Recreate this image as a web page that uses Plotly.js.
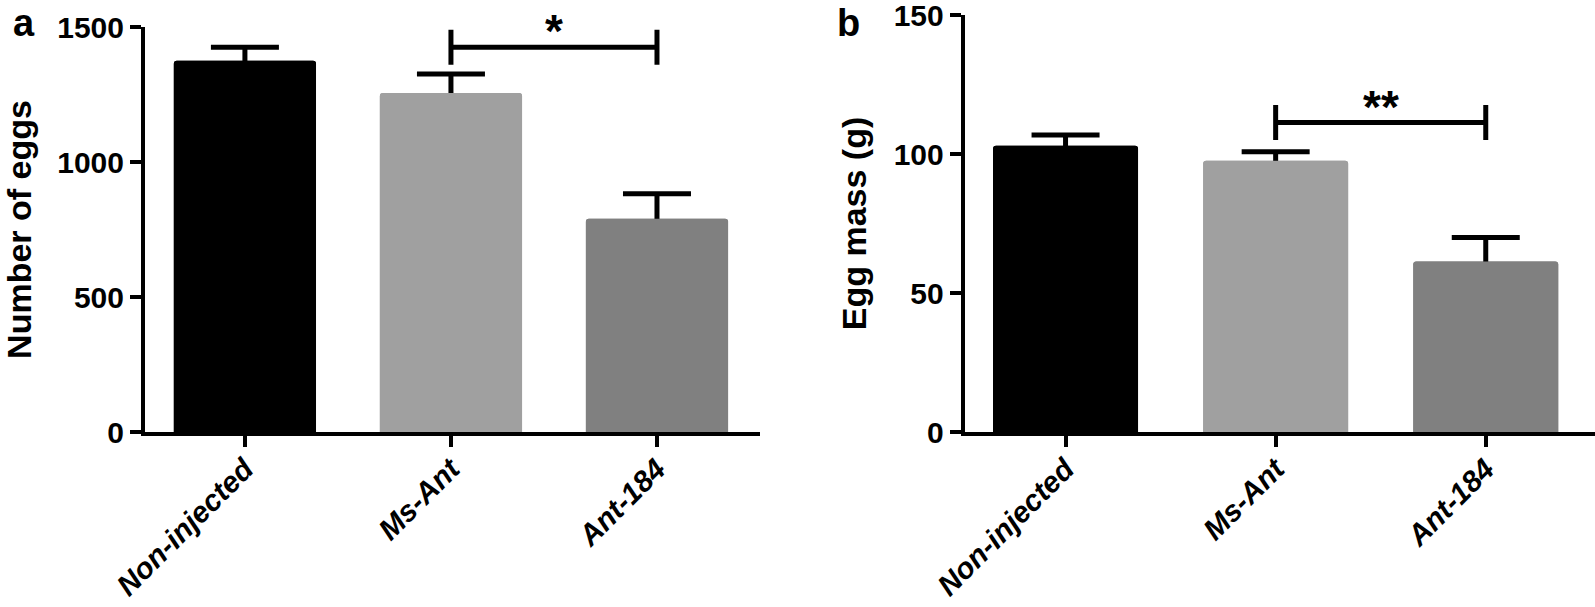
<!DOCTYPE html>
<html>
<head>
<meta charset="utf-8">
<script src="https://cdn.plot.ly/plotly-3.0.1.min.js"></script>
<style>
  html, body { margin: 0; padding: 0; background: #ffffff; }
  #chart { width: 1595px; height: 607px; }
</style>
</head>
<body>
<div id="chart"></div>
<script>
// ---- data ----
const categories = ['Non-injected', 'Ms-Ant', 'Ant-184'];
const eggCount = [1375, 1256, 790];
const eggCountErr = [50, 70, 92];
const eggMass = [103.0, 97.6, 61.3];
const eggMassErr = [3.8, 3.2, 8.7];
const barColors = ['#000000', '#a0a0a0', '#808080'];
const sigPairA = ['Ms-Ant', 'Ant-184'];
const sigLevelA = 1425;
const sigLabelA = '*';
const sigPairB = ['Ms-Ant', 'Ant-184'];
const sigLevelB = 111.3;
const sigLabelB = '**';
const yTitleA = 'Number of eggs';
const yTitleB = 'Egg mass (g)';

// ---- styling ----
const FONT = '"Liberation Sans", Arial, Helvetica, sans-serif';
const W = 1595, H = 607;

function barTrace(vals, errs, xa, ya, withErr) {
  const t = {
    type: 'bar', x: categories, y: vals, xaxis: xa, yaxis: ya,
    width: 0.69,
    marker: { color: barColors, line: { width: 0 }, cornerradius: 3 },
    hoverinfo: 'skip'
  };
  if (withErr) {
    t.error_y = { type: 'data', array: errs, symmetric: true, visible: true,
                  color: '#000000', thickness: 5, width: 34 };
  }
  return t;
}
function bracketTrace(pair, level, xa, ya) {
  return {
    type: 'scatter', mode: 'lines+markers', x: pair, y: [level, level],
    xaxis: xa, yaxis: ya,
    line: { color: '#000000', width: 5 },
    marker: { symbol: 'line-ns-open', size: 25, color: '#000000',
              line: { color: '#000000', width: 5 } },
    hoverinfo: 'skip'
  };
}

const data = [
  barTrace(eggCount, eggCountErr, 'x', 'y', true),
  barTrace(eggCount, eggCountErr, 'x', 'y', false),
  bracketTrace(sigPairA, sigLevelA, 'x', 'y'),
  barTrace(eggMass, eggMassErr, 'x2', 'y2', true),
  barTrace(eggMass, eggMassErr, 'x2', 'y2', false),
  bracketTrace(sigPairB, sigLevelB, 'x2', 'y2')
];

function xAxis(domain, range, anchor) {
  return {
    type: 'category', domain: domain, range: range, anchor: anchor,
    showgrid: false, zeroline: false,
    showline: true, linecolor: '#000000', linewidth: 4,
    ticks: 'outside', ticklen: 11, tickwidth: 4, tickcolor: '#000000',
    tickangle: -45, ticklabeloverflow: 'allow', ticklabelstandoff: -7,
    tickfont: { family: FONT, size: 29.5, color: '#000000', weight: 'bold', style: 'italic' },
    fixedrange: true
  };
}
function yAxis(domain, range, dtick, title, anchor) {
  return {
    domain: domain, range: range, anchor: anchor, dtick: dtick, tick0: 0,
    showgrid: false, zeroline: false,
    showline: true, linecolor: '#000000', linewidth: 4,
    ticks: 'outside', ticklen: 11, tickwidth: 4, tickcolor: '#000000',
    ticklabeloverflow: 'allow',
    tickfont: { family: FONT, size: 30, color: '#000000', weight: 'bold' },
    title: { text: title, standoff: 18,
             font: { family: FONT, size: 34, color: '#000000', weight: 'bold' } },
    fixedrange: true
  };
}

const yBottom = (H - 432) / H;
const layout = {
  width: W, height: H,
  margin: { l: 0, r: 0, t: 0, b: 0 },
  paper_bgcolor: '#ffffff', plot_bgcolor: '#ffffff',
  showlegend: false, hovermode: false,
  barmode: 'overlay',
  font: { family: FONT, color: '#000000' },
  xaxis: xAxis([145 / W, 760 / W], [-0.485, 2.5], 'y'),
  yaxis: yAxis([yBottom, (H - 27) / H], [0, 1500], 500, yTitleA, 'x'),
  xaxis2: xAxis([964.7 / W, 1], [-0.48, 2.52], 'y2'),
  yaxis2: yAxis([yBottom, (H - 15) / H], [0, 150], 50, yTitleB, 'x2'),
  annotations: [
    { text: sigLabelA, xref: 'x', yref: 'y', x: 1.5, y: sigLevelA,
      yanchor: 'middle', yshift: 16, showarrow: false,
      font: { family: FONT, size: 46, color: '#000000', weight: 'bold' } },
    { text: sigLabelB, xref: 'x2', yref: 'y2', x: 1.5, y: sigLevelB,
      yanchor: 'middle', yshift: 16, showarrow: false,
      font: { family: FONT, size: 46, color: '#000000', weight: 'bold' } },
    { text: 'a', xref: 'paper', yref: 'paper', x: 24 / W, y: 1,
      xanchor: 'center', yanchor: 'top', showarrow: false,
      font: { family: FONT, size: 38, color: '#000000', weight: 'bold' } },
    { text: 'b', xref: 'paper', yref: 'paper', x: 848 / W, y: 1,
      xanchor: 'center', yanchor: 'top', showarrow: false,
      font: { family: FONT, size: 38, color: '#000000', weight: 'bold' } }
  ]
};

Plotly.newPlot('chart', data, layout, { displayModeBar: false, staticPlot: true });
</script>
</body>
</html>
